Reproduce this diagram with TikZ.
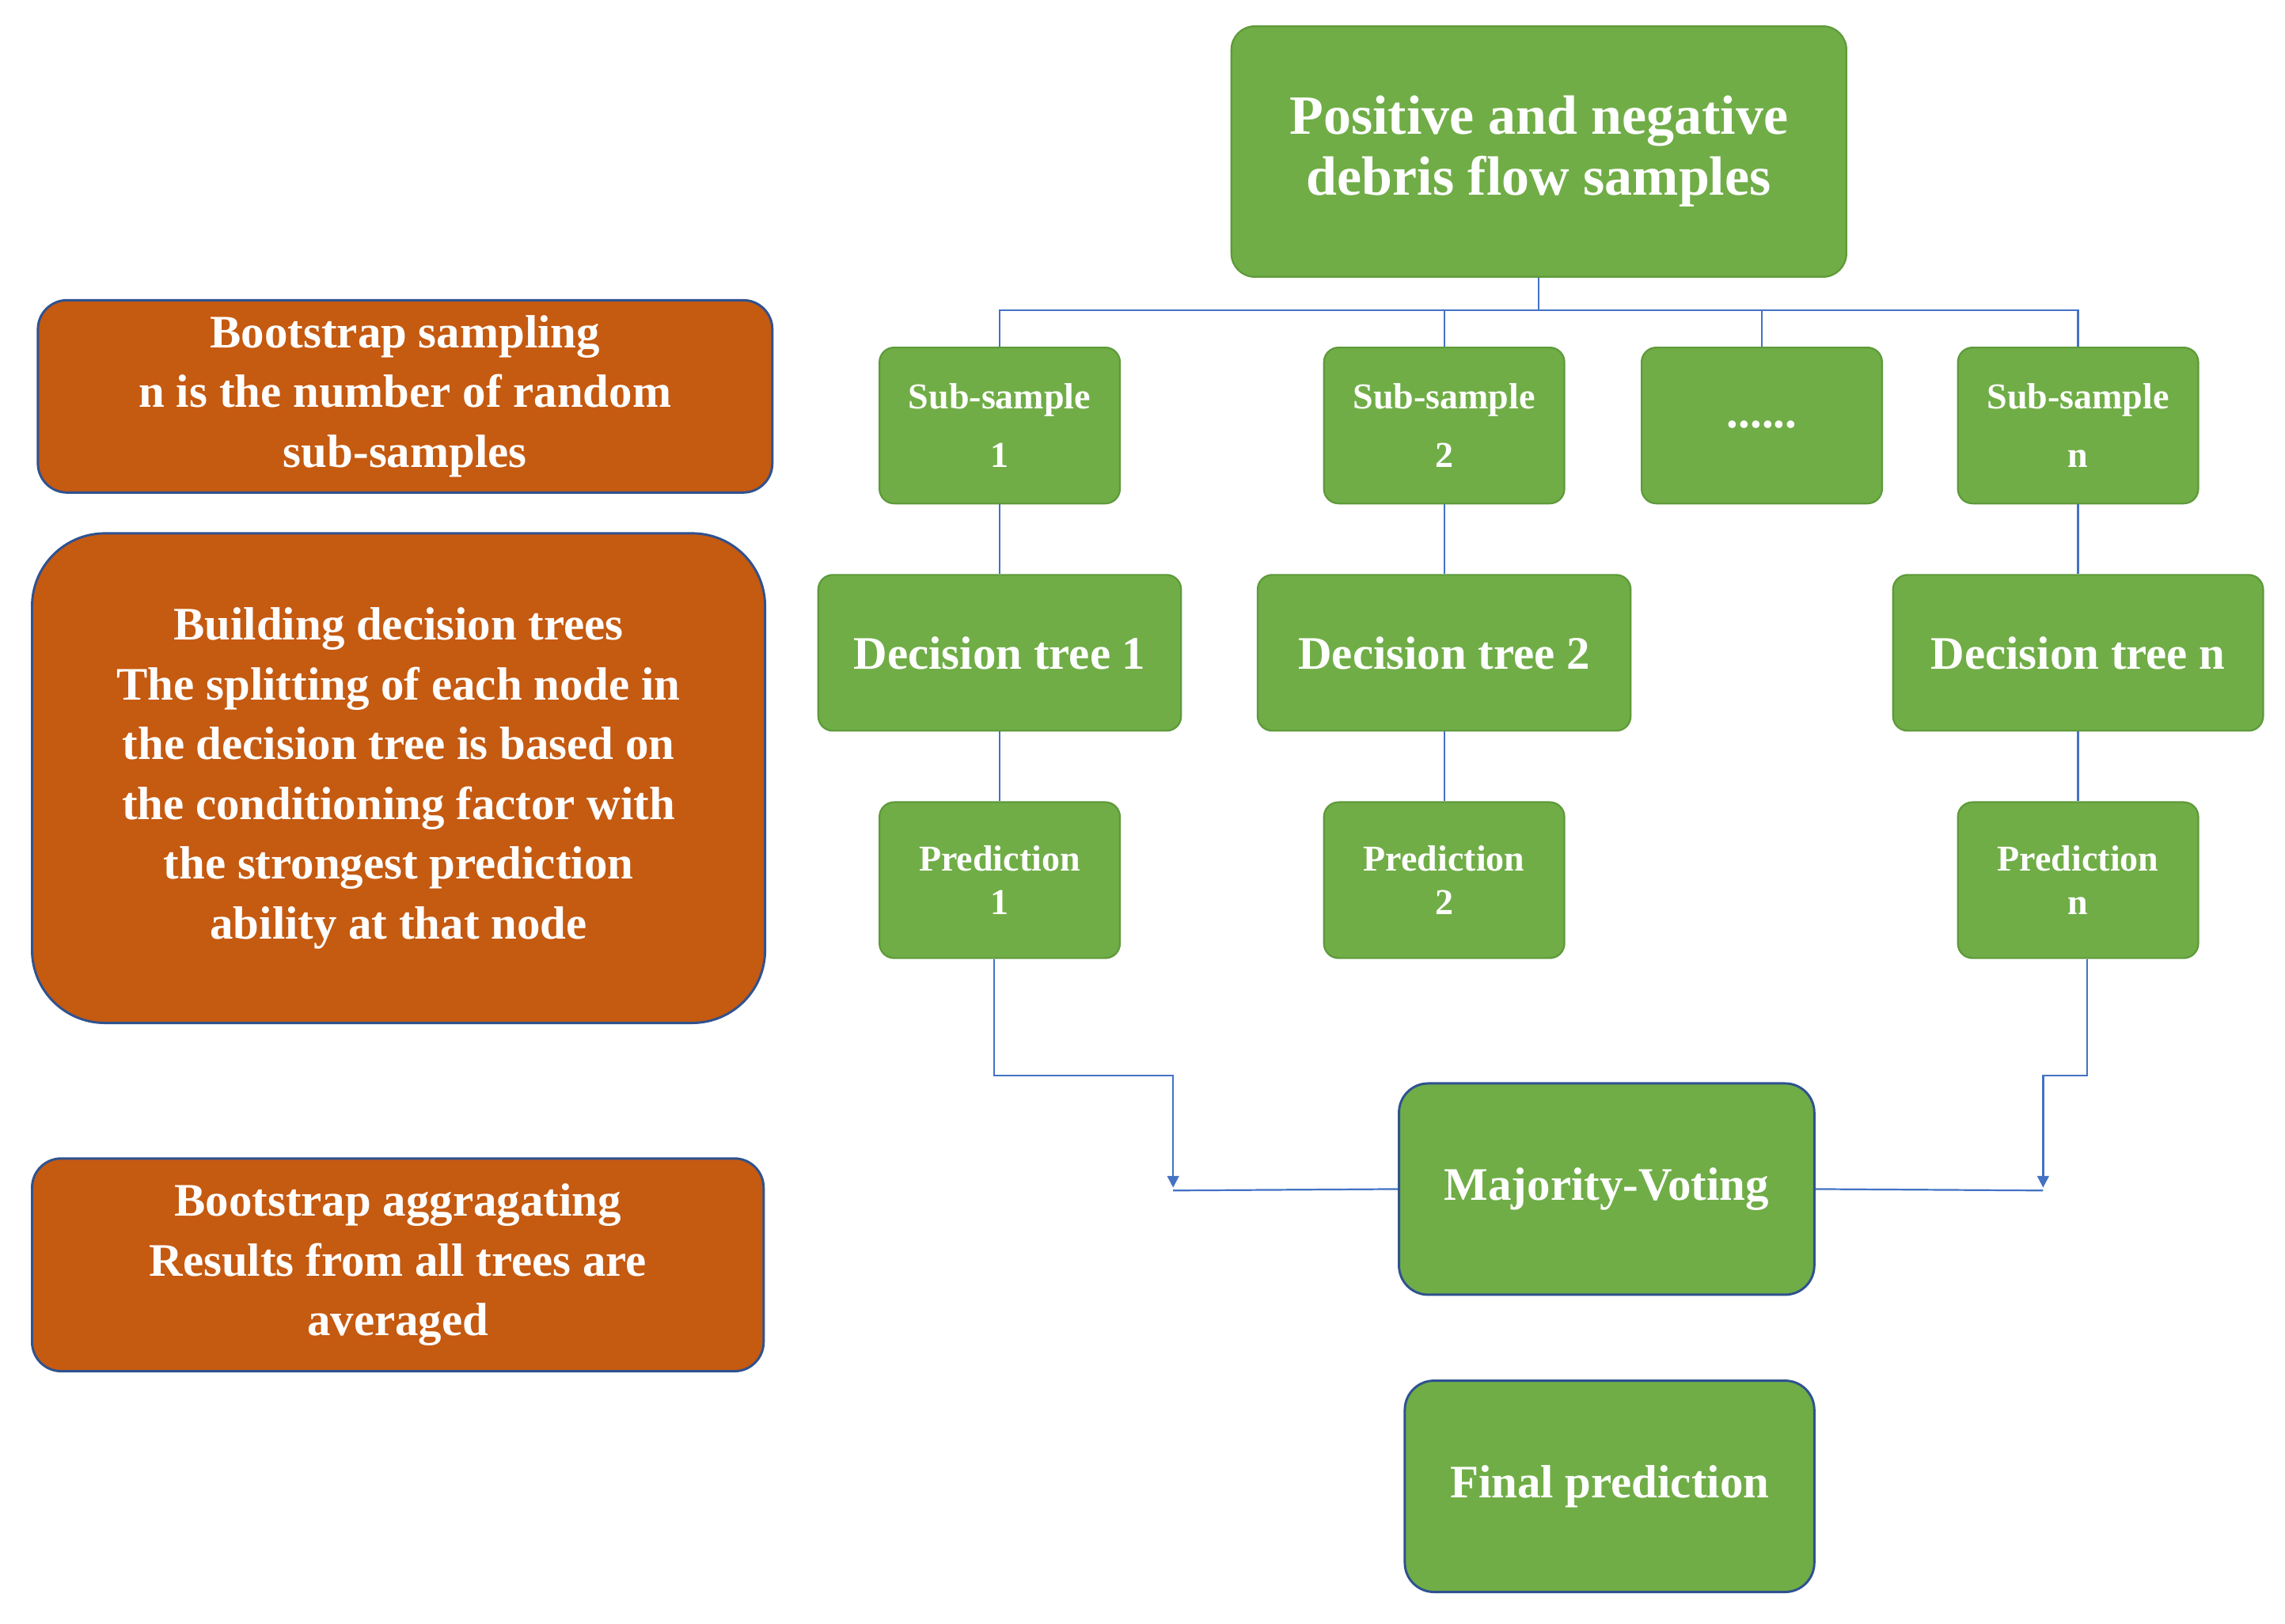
\documentclass[tikz,border=0pt]{standalone}
\usepackage{fontspec}
\setmainfont{Liberation Serif}
\usetikzlibrary{arrows.meta}
\definecolor{gr}{HTML}{70AD47}
\definecolor{grb}{HTML}{5E9A3A}
\definecolor{org}{HTML}{C55A11}
\definecolor{bd}{HTML}{2F528F}
\definecolor{ln}{HTML}{4472C4}
\begin{document}
\begin{tikzpicture}[x=0.5pt,y=-0.5pt,
 g/.style={fill=gr,draw=grb,line width=0.6pt,rounded corners=5pt,text=white,font=\bfseries,align=center,inner sep=0pt},
 o/.style={fill=org,draw=bd,line width=0.8pt,text=white,font=\bfseries\fontsize{16}{20.5}\selectfont,align=center,inner sep=0pt},
 c/.style={draw=ln,line width=0.6pt},
 a/.style={c,-{Triangle[length=4pt,width=4pt]}}]
\useasboundingbox (0,0) rectangle (1568,1114);
\newcommand\bx[6]{\node[#6,minimum width=#4*0.5pt,minimum height=#5*0.5pt] (#1) at (#2,#3) {};}
% top
\node[g,minimum width=211pt,minimum height=86pt,rounded corners=8pt,font=\bfseries\fontsize{19}{21}\selectfont] (top) at (1056,104) {Positive and negative\\debris flow samples};
% subsamples
\foreach \n/\x/\t in {s1/686/{Sub-sample\\[6pt]1},s2/991/{Sub-sample\\[6pt]2},s3/1426/{Sub-sample\\[6pt]n}}
 \node[g,minimum width=82.5pt,minimum height=53.5pt,font=\bfseries\fontsize{12.5}{14}\selectfont] (\n) at (\x,292) {\t};
\node[g,minimum width=82.5pt,minimum height=53.5pt,font=\bfseries\fontsize{16}{18}\selectfont] (sd) at (1209,292) {\raisebox{1pt}{......}};
% trees
\node[g,minimum width=124.5pt,minimum height=53.5pt,font=\bfseries\fontsize{16}{18}\selectfont] (t1) at (686,448) {Decision tree 1};
\node[g,minimum width=128pt,minimum height=53.5pt,font=\bfseries\fontsize{16}{18}\selectfont] (t2) at (991,448) {Decision tree 2};
\node[g,minimum width=127pt,minimum height=53.5pt,font=\bfseries\fontsize{16}{18}\selectfont] (t3) at (1426,448) {Decision tree n};
% predictions
\foreach \n/\x/\t in {p1/686/{Prediction\\1},p2/991/{Prediction\\2},p3/1426/{Prediction\\n}}
 \node[g,minimum width=82.5pt,minimum height=53.5pt,font=\bfseries\fontsize{12.5}{15}\selectfont] (\n) at (\x,604) {\t};
\node[g,draw=bd,line width=0.8pt,rounded corners=10pt,minimum width=142.5pt,minimum height=72.5pt,font=\bfseries\fontsize{16}{18}\selectfont] (mv) at (1102.5,816) {Majority-Voting};
\node[g,draw=bd,line width=0.8pt,rounded corners=10pt,minimum width=140.5pt,minimum height=72.5pt,font=\bfseries\fontsize{16}{18}\selectfont] (fp) at (1104.5,1020) {Final prediction};
% orange
\node[o,rounded corners=10pt,minimum width=252pt,minimum height=66pt] (o1) at (278,272) {Bootstrap sampling\\n is the number of random\\sub-samples};
\node[o,rounded corners=25pt,minimum width=251.5pt,minimum height=168pt] (o2) at (273.5,534) {\raisebox{18pt}{\parbox{250pt}{\centering Building decision trees\\The splitting of each node in\\the decision tree is based on\\the conditioning factor with\\the strongest prediction\\ability at that node}}};
\node[o,rounded corners=10pt,minimum width=251pt,minimum height=73pt] (o3) at (273,868) {Bootstrap aggragating\\Results from all trees are\\averaged};
% connectors
\coordinate (bus) at (1056,213);
\draw[c] (top.south) -- (bus);
\draw[c] (s1.north) |- (bus) -| (s3.north);
\draw[c] (s2.north) -- (s2.north|-bus);
\draw[c] (sd.north) -- (sd.north|-bus);
\foreach \a/\b in {s1/t1,s2/t2,s3/t3,t1/p1,t2/p2,t3/p3} \draw[c] (\a) -- (\b);
\coordinate (la) at (805,815);
\coordinate (ra) at (1402,815);
\draw[a] ([xshift=-2pt]p1.south) |- (805,738) -- (la);
\draw[a] ([xshift=3pt]p3.south) |- (1402,738) -- (ra);
\draw[c] (mv.west) -- (805,817);
\draw[c] (mv.east) -- (1402,817);
\end{tikzpicture}
\end{document}
